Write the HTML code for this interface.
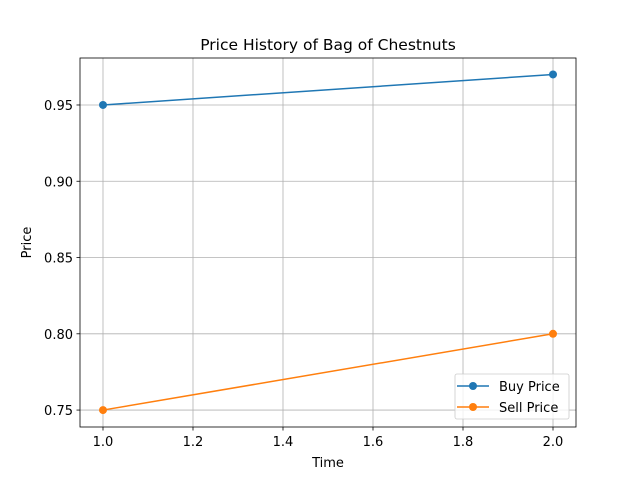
<!DOCTYPE html>
<html><head><meta charset="utf-8"><style>body{margin:0;background:#fff}svg{display:block;font-family:"DejaVu Sans","Liberation Sans",sans-serif}</style></head>
<body>
<svg id="c" width="640" height="480"></svg>
<script>
const times=[1.0,2.0];
const buyPrices=[0.95,0.97];
const sellPrices=[0.75,0.80];
const xTicks=[1.0,1.2,1.4,1.6,1.8,2.0];
const yTicks=[0.75,0.80,0.85,0.90,0.95];
const L=80,R=576,T=58,B=427,x0=0.9489,x1=2.0511,y0=0.7389,y1=0.9808;
const sx=v=>L+(v-x0)/(x1-x0)*(R-L), sy=v=>B-(v-y0)/(y1-y0)*(B-T);
const s=document.getElementById('c');const NS='http://www.w3.org/2000/svg';
function mk(t,a,p){const e=document.createElementNS(NS,t);for(const k in a)e.setAttribute(k,a[k]);(p||s).appendChild(e);return e;}
let e;
xTicks.forEach(v=>{const x=sx(v);
e=mk('line',{x1:x,x2:x,y1:T,y2:B,stroke:'#b0b0b0','stroke-width':0.8});


mk('line',{x1:x,x2:x,y1:B,y2:B+3.5,stroke:'#000','stroke-width':0.8});
e=mk('text',{x:x,y:B+19,'text-anchor':'middle','font-size':13});e.textContent=v.toFixed(1);

});
yTicks.forEach(v=>{const y=sy(v);
e=mk('line',{x1:L,x2:R,y1:y,y2:y,stroke:'#b0b0b0','stroke-width':0.8});


mk('line',{x1:L-3.5,x2:L,y1:y,y2:y,stroke:'#000','stroke-width':0.8});
e=mk('text',{x:L-7,y:y+5,'text-anchor':'end','font-size':13});e.textContent=v.toFixed(2);

});
function series(vals,col,name){
e=mk('polyline',{points:times.map((t,i)=>sx(t)+','+sy(vals[i])).join(' '),fill:'none',stroke:col,'stroke-width':1.5});


times.forEach((t,i)=>{e=mk('circle',{cx:sx(t),cy:sy(vals[i]),r:4,fill:col});

});}
series(buyPrices,'#1f77b4','buy-price');
series(sellPrices,'#ff7f0e','sell-price');
e=mk('rect',{x:L,y:T,width:R-L,height:B-T,fill:'none',stroke:'#000','stroke-width':0.8});


e=mk('text',{x:(L+R)/2,y:T-8,'text-anchor':'middle','font-size':15.5});e.textContent='Price History of Bag of Chestnuts';


e=mk('text',{x:(L+R)/2,y:467,'text-anchor':'middle','font-size':13});e.textContent='Time';


e=mk('text',{x:31,y:(T+B)/2,'text-anchor':'middle','font-size':13,transform:'rotate(-90 31 '+(T+B)/2+')'});e.textContent='Price';


const g=mk('g',{});


mk('rect',{x:455,y:374,width:114,height:45,rx:2,fill:'#fff','fill-opacity':0.8,stroke:'#ccc','stroke-width':0.8},g);
[['Buy Price','#1f77b4',386],['Sell Price','#ff7f0e',407]].forEach(([n,c,y])=>{
const it=mk('g',{},g);


mk('line',{x1:457,x2:489,y1:y,y2:y,stroke:c,'stroke-width':1.5},it);
mk('circle',{cx:473,cy:y,r:4,fill:c},it);
const t=mk('text',{x:499,y:y+5,'font-size':13},it);t.textContent=n;});
</script>
</body></html>
